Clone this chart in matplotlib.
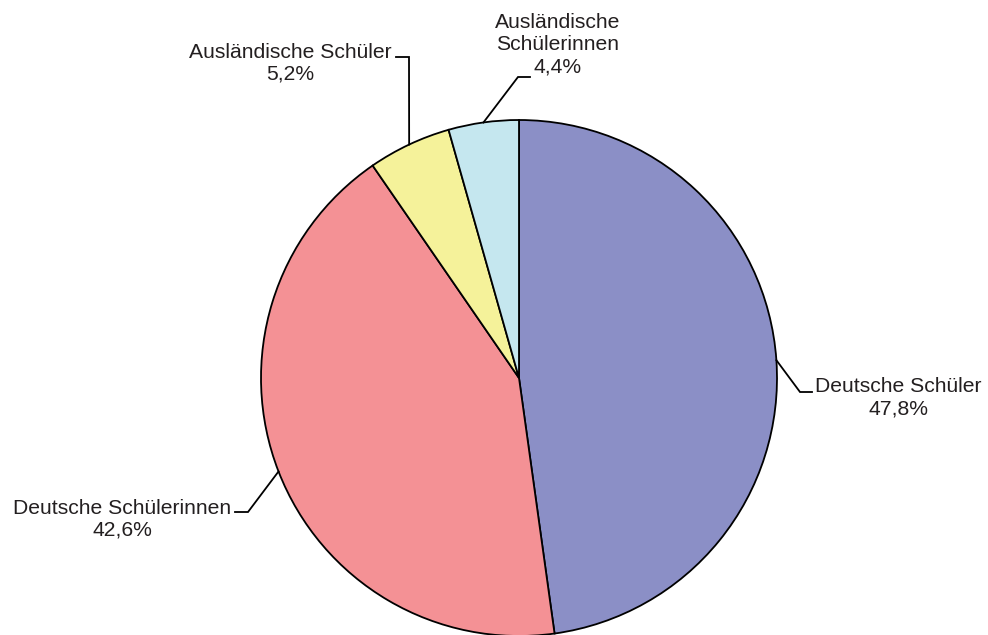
import numpy as np
import matplotlib
matplotlib.use("Agg")
import matplotlib.pyplot as plt

plt.rcParams['font.family'] = ['Liberation Sans', 'DejaVu Sans']

categories = ["Deutsche Schüler", "Deutsche Schülerinnen", "Ausländische Schüler", "Ausländische\nSchülerinnen"]
values = [47.8, 42.6, 5.2, 4.4]
colors = ["#8B8FC6", "#F49195", "#F5F29A", "#C5E7EF"]

W, H, DPI = 988, 635, 100
cx, cy, R = 519, 378, 258  # pie centre / radius in pixels (layout)

fig = plt.figure(figsize=(W / DPI, H / DPI), dpi=DPI)
ax = fig.add_axes([0, 0, 1, 1])

wedges, _ = ax.pie(values, colors=colors, startangle=90, counterclock=False,
                   radius=1.0, wedgeprops=dict(edgecolor="black", linewidth=1.3))

ax.set_xlim(-cx / R, (W - cx) / R)
ax.set_ylim(-(H - cy) / R, cy / R)
ax.set_aspect('auto')
ax.axis('off')

def px(x, y):
    return (x - cx) / R, (cy - y) / R

# label layout: (elbow px, end px, text px, ha)
layout = [
    ((800, 392), (812, 392), (815, 398), 'left'),
    ((248, 512), (235, 512), (231, 519), 'right'),
    ((409, 57), (396, 57), (392, 63), 'right'),
    ((518, 77), (530, 77), (558, 45), 'center'),
]

fs = 15.2
for w, cat, val, (elb, end, tp, ha) in zip(wedges, categories, values, layout):
    ang = np.deg2rad((w.theta1 + w.theta2) / 2)
    sx, sy = w.r * np.cos(ang), w.r * np.sin(ang)
    ex, ey = px(*elb)
    fx, fy = px(*end)
    ax.plot([sx, ex, fx], [sy, ey, fy], color="black", lw=1.3, solid_joinstyle='miter')
    tx, ty = px(*tp)
    ax.text(tx, ty, f"{cat}\n{val:.1f}%".replace('.', ','), ha=ha, va='center',
            multialignment='center', fontsize=fs, color="#231F20")

fig.savefig("out.png", dpi=DPI)
